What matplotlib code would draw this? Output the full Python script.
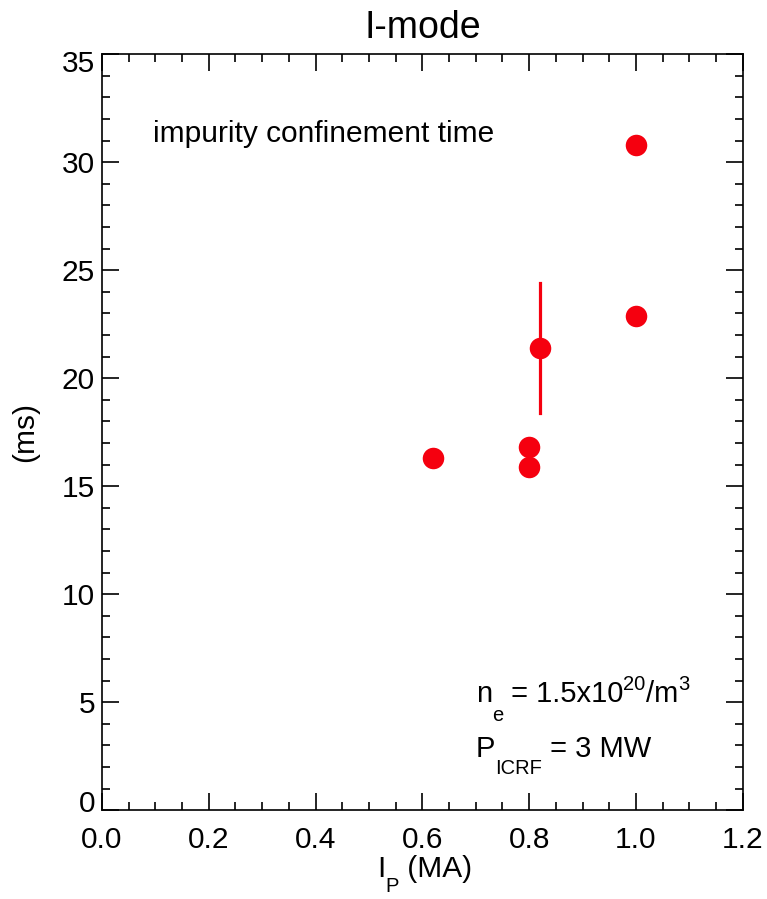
import matplotlib
matplotlib.use("Agg")
import matplotlib.pyplot as plt
from matplotlib.ticker import MultipleLocator
from matplotlib.transforms import ScaledTranslation

plt.rcParams['font.family'] = ['Liberation Sans', 'DejaVu Sans']

# data
ip_ma = [0.62, 0.80, 0.80, 0.82, 1.00, 1.00]
tau_ms = [16.3, 16.8, 15.9, 21.4, 30.8, 22.9]
tau_err = [0, 0, 0, 3.0, 0, 0]

x_ticks = [0.0, 0.2, 0.4, 0.6, 0.8, 1.0, 1.2]
x_ticklabels = ['0.0', '0.2', '0.4', '0.6', '0.8', '1.0', '1.2']
y_ticks = [0, 5, 10, 15, 20, 25, 30, 35]

red = '#f5000f'
FS = 21.5
AFS = 21.0
SUB = 14.5

fig = plt.figure(figsize=(7.67, 8.99), dpi=100)
ax = fig.add_axes([0.133, 0.0987, 0.8353, 0.8409])

for x, y, e in zip(ip_ma, tau_ms, tau_err):
    if e > 0:
        ax.plot([x, x], [y - e, y + e], color=red, lw=2.3, zorder=2)
ax.plot(ip_ma, tau_ms, 'o', color=red, ms=15.5, mec='none', zorder=3)

ax.set_xlim(0, 1.2)
ax.set_ylim(0, 35)
ax.set_xticks(x_ticks)
ax.set_xticklabels(x_ticklabels)
ax.set_yticks(y_ticks)
ax.xaxis.set_minor_locator(MultipleLocator(0.05))
ax.yaxis.set_minor_locator(MultipleLocator(1))
ax.tick_params(which='both', direction='in', top=True, right=True, width=1.2,
               labelsize=FS, colors='black')
ax.tick_params(which='major', length=12)
ax.tick_params(which='minor', length=6)
ax.tick_params(axis='x', which='major', pad=11)
ax.tick_params(axis='y', which='major', pad=5)
for s in ax.spines.values():
    s.set_linewidth(1.2)

yl = ax.get_yticklabels()
yl[0].set_va('baseline')
yl[0].set_transform(yl[0].get_transform() + ScaledTranslation(0, -2 / 100, fig.dpi_scale_trans))
yl[-1].set_va('baseline')
yl[-1].set_transform(yl[-1].get_transform() + ScaledTranslation(0, -18 / 100, fig.dpi_scale_trans))

ax.set_title('I-mode', fontsize=27, pad=12)
ax.set_ylabel('(ms)', fontsize=FS, labelpad=16)

fig.canvas.draw()
renderer = fig.canvas.get_renderer()


def rich(x, y, chunks, xycoords):
    """chunks: list of (text, fontsize, vertical offset in points)."""
    dx = 0.0
    for txt, size, dy in chunks:
        t = ax.annotate(txt, xy=(x, y), xycoords=xycoords, xytext=(dx, dy),
                        textcoords='offset points', fontsize=size,
                        ha='left', va='baseline', annotation_clip=False)
        w = t.get_window_extent(renderer).width
        dx += w * 72.0 / fig.dpi


ax.text(0.095, 30.95, 'impurity confinement time', fontsize=FS)

rich(0.70, 5.0, [('n', AFS, 0), ('e', SUB, -13.5), (' = 1.5x10', AFS, 0),
                 ('20', SUB, 9.0), ('/m', AFS, 0), ('3', SUB, 9.0)], 'data')
rich(0.70, 2.45, [('P', AFS, 0), ('ICRF', SUB, -12.0), (' = 3 MW', AFS, 0)], 'data')

rich(377 / 767, 1 - 877 / 899, [('I', FS, 0), ('P', SUB, -10.5), (' (MA)', FS, 0)],
     'figure fraction')

fig.savefig('out.png', dpi=100)
